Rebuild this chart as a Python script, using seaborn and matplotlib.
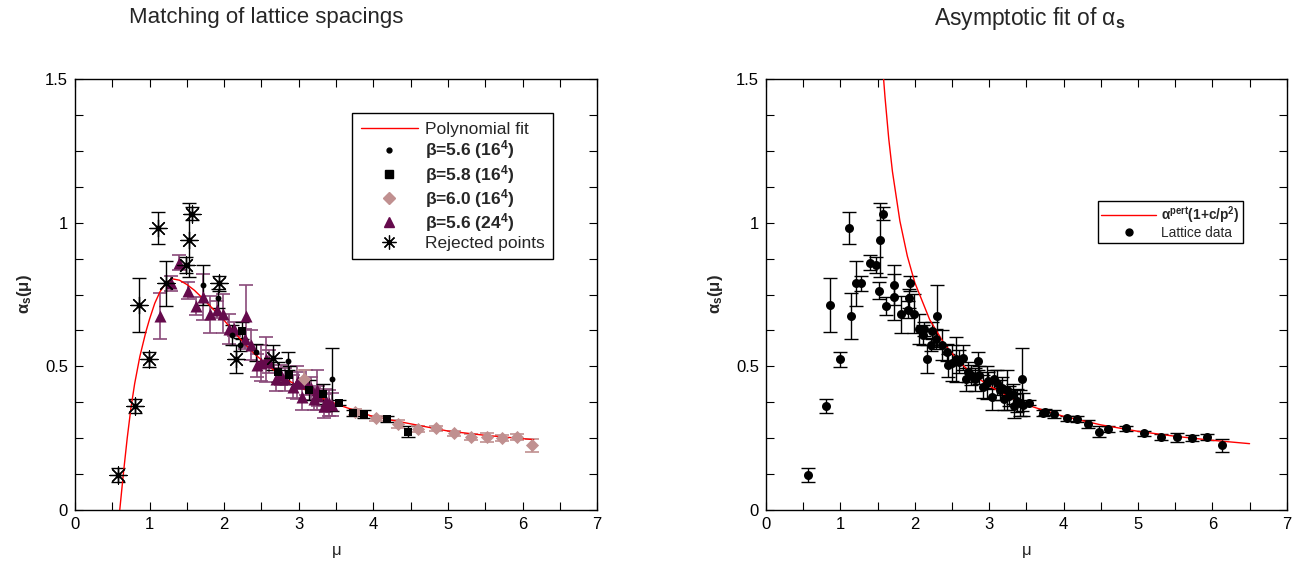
import numpy as np
import pandas as pd
import matplotlib
matplotlib.use("Agg")
import matplotlib.pyplot as plt
from matplotlib.lines import Line2D
from matplotlib.legend_handler import HandlerLine2D
from matplotlib.ticker import MultipleLocator
import seaborn as sns

# beta=5.6 (16^4) points: mu, alpha_s, error
mu_b56 = [1.72, 1.92, 2.105, 2.218, 2.43, 2.85, 3.44]
al_b56 = [0.783, 0.737, 0.609, 0.575, 0.549, 0.518, 0.455]
er_b56 = [0.07, 0.034, 0.035, 0.023, 0.03, 0.032, 0.11]

# beta=5.8 (16^4)
mu_b58 = [2.236, 2.72, 2.87, 3.14, 3.32, 3.54, 3.724, 3.87, 4.18, 4.47]
al_b58 = [0.624, 0.481, 0.47, 0.418, 0.404, 0.374, 0.337, 0.334, 0.318, 0.273]
er_b58 = [0.03, 0.035, 0.03, 0.035, 0.035, 0.01, 0.01, 0.013, 0.01, 0.018]

# beta=6.0 (16^4)
mu_b60 = [3.07, 3.75, 4.04, 4.33, 4.60, 4.84, 5.08, 5.31, 5.52, 5.73, 5.93, 6.13]
al_b60 = [0.455, 0.342, 0.319, 0.301, 0.283, 0.284, 0.267, 0.254, 0.253, 0.251, 0.254, 0.225]
er_b60 = [0.032, 0.01, 0.01, 0.014, 0.01, 0.01, 0.008, 0.01, 0.015, 0.01, 0.01, 0.022]

# beta=5.6 (24^4)
mu_b24 = [1.143, 1.282, 1.40, 1.516, 1.62, 1.72, 1.813, 1.903, 1.99, 2.06, 2.13,
          2.28, 2.294, 2.36, 2.44, 2.50, 2.56, 2.60, 2.69, 2.76, 2.81, 2.92,
          2.97, 2.99, 3.04, 3.10, 3.17, 3.20, 3.24, 3.26, 3.34, 3.37, 3.41, 3.45]
al_b24 = [0.675, 0.789, 0.861, 0.764, 0.71, 0.742, 0.681, 0.697, 0.683, 0.631, 0.631,
          0.595, 0.675, 0.575, 0.504, 0.512, 0.524, 0.516, 0.455, 0.47, 0.455, 0.429,
          0.443, 0.45, 0.395, 0.443, 0.423, 0.385, 0.418, 0.397, 0.362, 0.381, 0.372, 0.366]
er_b24 = [0.08, 0.026, 0.025, 0.03, 0.03, 0.08, 0.065, 0.03, 0.068, 0.052, 0.024,
          0.035, 0.108, 0.052, 0.04, 0.063, 0.078, 0.04, 0.039, 0.035, 0.04, 0.04,
          0.058, 0.03, 0.046, 0.043, 0.04, 0.038, 0.07, 0.035, 0.043, 0.04, 0.045, 0.04]

# rejected points
mu_rej = [0.57, 0.81, 0.855, 0.99, 1.116, 1.215, 1.485, 1.53, 1.574, 1.934, 2.164, 2.65]
al_rej = [0.122, 0.363, 0.714, 0.524, 0.982, 0.789, 0.853, 0.94, 1.031, 0.789, 0.526, 0.53]
er_rej = [0.024, 0.025, 0.095, 0.027, 0.056, 0.078, 0.028, 0.13, 0.023, 0.026, 0.05, 0.043]

# polynomial fit (left panel)
poly_mu = [0.60, 0.65, 0.70, 0.75, 0.80, 0.87, 0.95, 1.00, 1.07, 1.14, 1.22, 1.30,
           1.40, 1.50, 1.60, 1.70, 1.85, 2.00, 2.20, 2.40, 2.60, 2.80, 3.00, 3.30,
           3.60, 4.00, 4.50, 5.00, 5.50, 6.15]
poly_al = [0.0, 0.13, 0.25, 0.355, 0.44, 0.535, 0.62, 0.665, 0.72, 0.76, 0.79, 0.805,
           0.80, 0.785, 0.765, 0.74, 0.70, 0.66, 0.60, 0.545, 0.50, 0.46, 0.43, 0.39,
           0.36, 0.325, 0.30, 0.275, 0.26, 0.245]

# asymptotic fit alpha_pert (1 + c/p^2) (right panel)
pert_mu = [1.56, 1.58, 1.60, 1.65, 1.70, 1.80, 1.90, 2.00, 2.20, 2.40, 2.60, 2.80,
           3.00, 3.30, 3.60, 4.00, 4.50, 5.00, 5.50, 6.00, 6.50]
pert_al = [1.58, 1.504, 1.437, 1.293, 1.178, 1.006, 0.884, 0.792, 0.663, 0.577, 0.515,
           0.468, 0.432, 0.390, 0.358, 0.326, 0.2965, 0.274, 0.2567, 0.2426, 0.231]

PURPLE = "#650a4c"
PURPLE_BAR = "#8a4a7a"
ROSY = "#c09090"

sns.set_style("ticks")
plt.rcParams["font.family"] = ["Liberation Sans", "DejaVu Sans"]
plt.rcParams["mathtext.fontset"] = "custom"
plt.rcParams["mathtext.rm"] = "Liberation Sans"
plt.rcParams["mathtext.it"] = "Liberation Sans:italic"
plt.rcParams["mathtext.bf"] = "Liberation Sans:bold"
plt.rcParams["mathtext.default"] = "regular"


class MarkerRight(HandlerLine2D):
    """Legend handler that puts the marker at the right end, next to the text."""
    def get_xdata(self, legend, xdescent, ydescent, width, height, fontsize):
        xdata = [-xdescent, -xdescent + width]
        return xdata, [-xdescent + width - 0.35 * fontsize]


fig = plt.figure(figsize=(13.02, 5.67), dpi=100)
ax1 = fig.add_axes([0.0576, 0.1005, 0.401, 0.760])
ax2 = fig.add_axes([0.5883, 0.1005, 0.400, 0.760])


def style_axes(ax):
    ax.set_xlim(0, 7)
    ax.set_ylim(0, 1.5)
    ax.xaxis.set_major_locator(MultipleLocator(1))
    ax.xaxis.set_minor_locator(MultipleLocator(0.5))
    ax.yaxis.set_minor_locator(MultipleLocator(0.125))
    ax.set_yticks([0, 0.5, 1, 1.5])
    ax.set_yticklabels(["0", "0.5", "1", "1.5"])
    ax.tick_params(which="both", direction="in", top=True, right=True,
                   labelsize=12, colors="black")
    ax.tick_params(which="major", length=6, width=0.8, pad=5)
    ax.tick_params(which="minor", length=6, width=0.8)
    for s in ax.spines.values():
        s.set_visible(True)
        s.set_color("black")
        s.set_linewidth(1.0)
    ax.set_xlabel(r"$\mu$", fontsize=12, labelpad=9)
    ax.set_ylabel(r"$\alpha_{\mathbf{s}}\mathbf{(}\mu\mathbf{)}$", fontsize=12,
                  fontweight="bold", labelpad=8)


def bars(ax, x, y, e, color, lw=1.0):
    ax.errorbar(x, y, yerr=e, fmt="none", ecolor=color, elinewidth=lw,
                capsize=5, capthick=lw, zorder=2)


# ---------- left panel ----------
sns.lineplot(x=poly_mu, y=poly_al, ax=ax1, color="red", linewidth=1.0, sort=False,
             estimator=None, zorder=3)

bars(ax1, mu_b24, al_b24, er_b24, PURPLE_BAR, 1.2)
bars(ax1, mu_b56, al_b56, er_b56, "black")
bars(ax1, mu_b58, al_b58, er_b58, "black")
bars(ax1, mu_b60, al_b60, er_b60, ROSY, 1.2)
bars(ax1, mu_rej, al_rej, er_rej, "black")

sns.scatterplot(x=mu_b24, y=al_b24, ax=ax1, marker="^", s=75, color=PURPLE,
                linewidth=0, zorder=4)
sns.scatterplot(x=mu_b60, y=al_b60, ax=ax1, marker="D", s=45, color=ROSY,
                linewidth=0, zorder=4)
sns.scatterplot(x=mu_b58, y=al_b58, ax=ax1, marker="s", s=40, color="black",
                linewidth=0, zorder=5)
sns.scatterplot(x=mu_b56 + mu_rej, y=al_b56 + al_rej, ax=ax1, marker="o", s=18,
                color="black", linewidth=0, zorder=5)
ax1.scatter(mu_rej, al_rej, marker=(8, 2, 0), s=150, color="black",
            linewidths=0.9, zorder=6)

handles1 = [
    Line2D([], [], color="red", lw=1.0),
    Line2D([], [], color="black", marker="o", ms=3.5, ls="none"),
    Line2D([], [], color="black", marker="s", ms=6, ls="none"),
    Line2D([], [], color=ROSY, marker="D", ms=6, ls="none"),
    Line2D([], [], color=PURPLE, marker="^", ms=7, ls="none"),
    Line2D([], [], color="black", marker=(8, 2, 0), ms=10, mew=0.9, ls="none"),
]
labels1 = ["Polynomial fit",
           r"$\beta$=5.6 (16$^{\mathbf{4}}$)",
           r"$\beta$=5.8 (16$^{\mathbf{4}}$)",
           r"$\beta$=6.0 (16$^{\mathbf{4}}$)",
           r"$\beta$=5.6 (24$^{\mathbf{4}}$)",
           "Rejected points"]
leg1 = ax1.legend(handles1, labels1, loc="upper right", bbox_to_anchor=(0.916, 0.921),
                  borderaxespad=0, fontsize=12.5, frameon=True, fancybox=False,
                  edgecolor="black", framealpha=1, labelspacing=0.08,
                  handlelength=3.3, borderpad=0.5, handletextpad=0.4,
                  handler_map={Line2D: MarkerRight()})
leg1.get_frame().set_linewidth(1.0)
for i, t in enumerate(leg1.get_texts()):
    if 1 <= i <= 4:
        t.set_fontweight("bold")

style_axes(ax1)

# ---------- right panel ----------
all_mu = mu_b56 + mu_b58 + mu_b60 + mu_b24 + mu_rej
all_al = al_b56 + al_b58 + al_b60 + al_b24 + al_rej
all_er = er_b56 + er_b58 + er_b60 + er_b24 + er_rej

sns.lineplot(x=pert_mu, y=pert_al, ax=ax2, color="red", linewidth=1.0, sort=False,
             estimator=None, zorder=3)
bars(ax2, all_mu, all_al, all_er, "black")
sns.scatterplot(x=all_mu, y=all_al, ax=ax2, marker="o", s=42, color="black",
                linewidth=0, zorder=4)

handles2 = [Line2D([], [], color="red", lw=1.0),
            Line2D([], [], color="black", marker="o", ms=5, ls="none")]
labels2 = [r"$\alpha^{\mathbf{pert}}$(1+c/p$^{\mathbf{2}}$)", "Lattice data"]
leg2 = ax2.legend(handles2, labels2, loc="upper right", bbox_to_anchor=(0.916, 0.717),
                  borderaxespad=0, fontsize=9.8, frameon=True, fancybox=False,
                  edgecolor="black", framealpha=1, labelspacing=0.0,
                  handlelength=4.0, borderpad=0.25, handletextpad=0.4,
                  handler_map={Line2D: MarkerRight()})
leg2.get_frame().set_linewidth(1.0)
leg2.get_texts()[0].set_fontweight("bold")

style_axes(ax2)

fig.text(266 / 1302, 1 - 18 / 567, "Matching of lattice spacings", ha="center",
         va="center", fontsize=16)
fig.text(1030 / 1302, 1 - 18 / 567, r"Asymptotic fit of $\alpha_{\mathbf{s}}$",
         ha="center", va="center", fontsize=16.5)

fig.savefig("out.png", dpi=100)
